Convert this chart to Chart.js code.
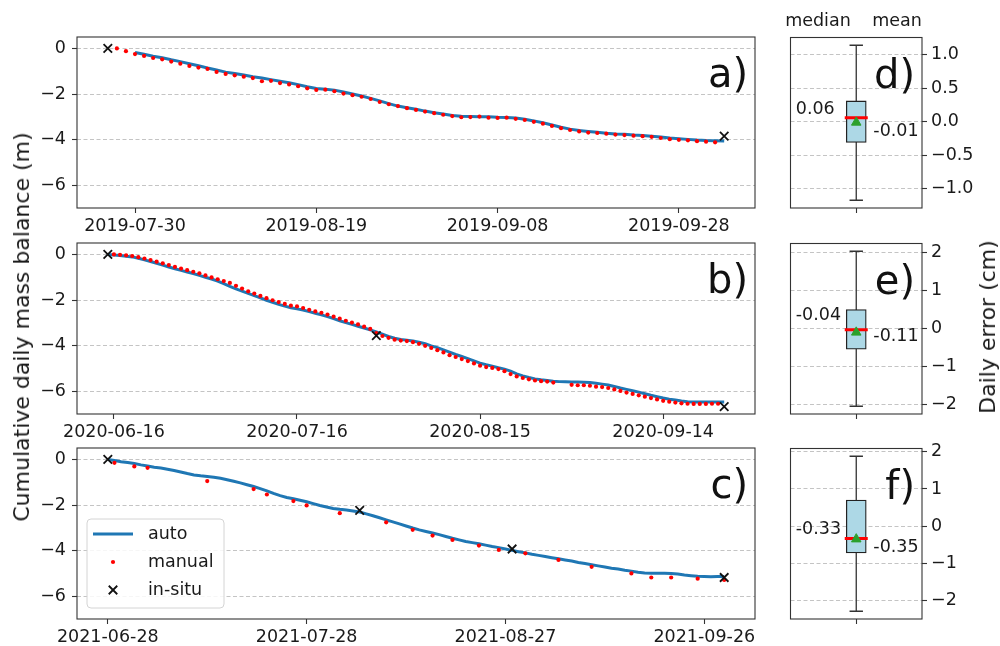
<!DOCTYPE html>
<html lang="en">
<head>
<meta charset="utf-8">
<title>Cumulative daily mass balance</title>
<script src="https://cdn.jsdelivr.net/npm/chart.js@4.4.1/dist/chart.umd.min.js"></script>
<style>
  html, body { margin: 0; padding: 0; background: #fff; overflow: hidden; }
  #fig { position: relative; width: 1000px; height: 646px; font-family: "DejaVu Sans", sans-serif; color: #1a1a1a; }
  #fig canvas { position: absolute; }
  .txt { position: absolute; white-space: nowrap; transform: translate(-50%, -50%); font-size: 17.5px; line-height: 1; }
  .vert { transform: translate(-50%, -50%) rotate(-90deg); font-size: 22px; }
</style>
</head>
<body>
<div id="fig">
  <canvas id="panelA" width="770" height="208" style="left:0;top:27px"></canvas>
  <canvas id="panelB" width="770" height="208" style="left:0;top:233px"></canvas>
  <canvas id="panelC" width="770" height="208" style="left:0;top:438px"></canvas>
  <canvas id="panelD" width="202" height="212" style="left:776px;top:23px"></canvas>
  <canvas id="panelE" width="202" height="212" style="left:776px;top:229px"></canvas>
  <canvas id="panelF" width="202" height="212" style="left:776px;top:434px"></canvas>
  <div class="txt vert" style="left:22px;top:327px">Cumulative daily mass balance (m)</div>
  <div class="txt" style="left:818px;top:21px">median</div>
  <div class="txt" style="left:897px;top:21px">mean</div>
  <div class="txt vert" style="left:988px;top:327px">Daily error (cm)</div>
</div>
<script>
// ---- 2019 season (panel a) ----
const ticksA = ['2019-07-30', '2019-08-19', '2019-09-08', '2019-09-28'];
const autoStartA = '2019-07-30';
const autoA = [
  -0.18, -0.26, -0.34, -0.41, -0.50, -0.58, -0.67, -0.76, -0.86, -0.95,
  -1.04, -1.10, -1.17, -1.24, -1.30, -1.37, -1.44, -1.51, -1.59, -1.68,
  -1.76, -1.79, -1.83, -1.91, -2.00, -2.09, -2.19, -2.30, -2.42, -2.53,
  -2.60, -2.67, -2.75, -2.82, -2.88, -2.94, -2.98, -2.99, -3.00, -3.00,
  -3.02, -3.03, -3.05, -3.11, -3.18, -3.26, -3.36, -3.46, -3.54, -3.60,
  -3.64, -3.68, -3.72, -3.75, -3.77, -3.80, -3.82, -3.85, -3.89, -3.93,
  -3.96, -3.99, -4.02, -4.04, -4.05, -4.06
];
const manualStartA = '2019-07-28';
const manualA = [
  0.00, -0.12, -0.25, -0.33, -0.42, -0.48, -0.58, -0.67, -0.77, -0.84,
  -0.90, -1.03, -1.12, -1.18, -1.24, -1.30, -1.44, -1.42, -1.52, -1.58,
  -1.66, -1.75, -1.82, -1.81, -1.88, -1.98, -2.05, -2.12, -2.22, -2.35,
  -2.45, -2.53, -2.62, -2.70, -2.77, -2.84, -2.91, -2.97, -3.02, -3.01,
  -2.99, -3.04, -3.05, -3.04, -3.09, -3.14, -3.22, -3.30, -3.40, -3.50,
  -3.58, -3.64, -3.69, -3.71, -3.74, -3.78, -3.80, -3.83, -3.85, -3.88,
  -3.93, -3.98, -4.01, -4.03, -4.07, -4.09, -4.12
];
const insituDatesA = ['2019-07-27', '2019-10-03'];
const insituA = [0, -3.85];

// ---- 2020 season (panel b) ----
const ticksB = ['2020-06-16', '2020-07-16', '2020-08-15', '2020-09-14'];
const autoStartB = '2020-06-15';
const autoB = [
  0.00, -0.03, -0.05, -0.08, -0.11, -0.17, -0.24, -0.31, -0.39, -0.47,
  -0.55, -0.63, -0.70, -0.77, -0.84, -0.92, -1.00, -1.08, -1.17, -1.28,
  -1.40, -1.51, -1.61, -1.71, -1.81, -1.91, -2.01, -2.10, -2.19, -2.27,
  -2.34, -2.39, -2.44, -2.51, -2.58, -2.65, -2.73, -2.82, -2.91, -2.99,
  -3.07, -3.15, -3.23, -3.31, -3.40, -3.50, -3.60, -3.68, -3.73, -3.76,
  -3.80, -3.85, -3.92, -4.01, -4.09, -4.19, -4.29, -4.39, -4.48, -4.57,
  -4.67, -4.77, -4.84, -4.90, -4.97, -5.03, -5.12, -5.24, -5.33, -5.40,
  -5.46, -5.50, -5.53, -5.56, -5.58, -5.59, -5.60, -5.60, -5.61, -5.62,
  -5.65, -5.69, -5.73, -5.79, -5.86, -5.92, -5.98, -6.04, -6.11, -6.18,
  -6.24, -6.30, -6.35, -6.39, -6.43, -6.46, -6.47, -6.47, -6.47, -6.47,
  -6.47, -6.47
];
const manualStartB = '2020-06-16';
const manualB = [
  0.00, -0.02, -0.04, -0.07, -0.12, -0.18, -0.25, -0.32, -0.39, -0.47,
  -0.55, -0.62, -0.69, -0.76, -0.83, -0.92, -1.01, -1.09, -1.17, -1.25,
  -1.38, -1.50, -1.62, -1.72, -1.82, -1.92, -2.01, -2.09, -2.17, -2.25,
  -2.28, -2.35, -2.43, -2.50, -2.56, -2.64, -2.73, -2.82, -2.91, -2.99,
  -3.07, -3.17, -3.27, -3.45, -3.58, -3.66, -3.74, -3.78, -3.80, -3.85,
  -3.92, -4.01, -4.10, -4.20, -4.30, -4.42, -4.50, -4.59, -4.68, -4.78,
  -4.88, -4.94, -4.98, -5.03, -5.12, -5.25, -5.35, -5.42, -5.48, -5.53,
  -5.56, -5.58, -5.62, null, null, -5.72, -5.74, -5.74, -5.76, -5.80,
  -5.82, -5.86, -5.92, -5.99, -6.06, -6.12, -6.18, -6.24, -6.30, -6.36,
  -6.42, -6.46, -6.50, -6.53, -6.55, -6.56, -6.56, -6.56, -6.55, -6.55
];
const insituDatesB = ['2020-06-15', '2020-07-29', '2020-09-24'];
const insituB = [0, -3.56, -6.68];

// ---- 2021 season (panel c) ----
const ticksC = ['2021-06-28', '2021-07-28', '2021-08-27', '2021-09-26'];
const autoStartC = '2021-06-28';
const autoC = [
  0.00, -0.05, -0.10, -0.14, -0.18, -0.24, -0.29, -0.34, -0.38, -0.43,
  -0.49, -0.55, -0.62, -0.68, -0.72, -0.75, -0.78, -0.83, -0.89, -0.96,
  -1.03, -1.11, -1.19, -1.28, -1.38, -1.49, -1.59, -1.67, -1.73, -1.79,
  -1.86, -1.94, -2.02, -2.09, -2.15, -2.19, -2.22, -2.26, -2.31, -2.39,
  -2.47, -2.56, -2.65, -2.74, -2.83, -2.92, -3.01, -3.09, -3.16, -3.23,
  -3.30, -3.38, -3.46, -3.53, -3.60, -3.65, -3.70, -3.76, -3.82, -3.87,
  -3.93, -3.99, -4.05, -4.10, -4.16, -4.21, -4.26, -4.31, -4.36, -4.41,
  -4.46, -4.52, -4.57, -4.62, -4.67, -4.72, -4.77, -4.81, -4.86, -4.90,
  -4.95, -4.98, -4.99, -4.99, -4.99, -5.00, -5.03, -5.07, -5.10, -5.13,
  -5.14, -5.15, -5.14, -5.14
];
// manual readings in 2021 were not daily: day offsets from autoStartC
const manualDaysC = [1, 4, 6, 15, 22, 24, 28, 30, 35, 42, 46, 49, 52, 56, 59, 63, 68, 73, 79, 82, 85, 89, 93];
const manualC = [-0.15, -0.31, -0.37, -0.95, -1.30, -1.54, -1.83, -2.02, -2.36, -2.76, -3.09, -3.34,
                 -3.53, -3.78, -3.97, -4.12, -4.41, -4.71, -5.00, -5.18, -5.18, -5.23, -5.29];
const insituDatesC = ['2021-06-28', '2021-08-05', '2021-08-28', '2021-09-29'];
const insituC = [0, -2.24, -3.93, -5.18];

const massTicks = [-6, -4, -2, 0];

// ---- daily error boxplots: whisker low, q1, median, q3, whisker high, mean (cm) ----
const statsD = [-1.17, -0.31, 0.06, 0.31, 1.14, -0.01];
const statsE = [-2.05, -0.55, -0.04, 0.49, 2.02, -0.11];
const statsF = [-2.29, -0.72, -0.33, 0.70, 1.88, -0.35];
const errTicksD = [-1, -0.5, 0, 0.5, 1];
const errTicksEF = [-2, -1, 0, 1, 2];

Chart.defaults.font.family = '"DejaVu Sans", sans-serif';
Chart.defaults.font.size = 17.5;
Chart.defaults.color = '#1a1a1a';

const DAY = 86400000;
function dayNum(s) {
  const [y, m, d] = s.split('-').map(Number);
  return Date.UTC(y, m - 1, d) / DAY;
}
function isoDate(n) {
  return new Date(Math.round(n) * DAY).toISOString().slice(0, 10);
}
function daily(start, values) {
  const d0 = dayNum(start);
  const pts = [];
  values.forEach((v, i) => { if (v !== null) pts.push({ x: d0 + i, y: v }); });
  return pts;
}
function dated(dates, values) {
  return dates.map((s, i) => ({ x: dayNum(s), y: values[i] }));
}
function offsets(start, days, values) {
  const d0 = dayNum(start);
  return days.map((d, i) => ({ x: d0 + d, y: values[i] }));
}
function fmt(v, dec) {
  return (v < 0 ? '\u2212' : '') + Math.abs(v).toFixed(dec);
}
// keep the plot area where the layout padding puts it
function fixY(width) {
  return s => { s.width = width; s.paddingTop = 0; s.paddingBottom = 0; };
}

const FRAME = '#333';
const GRID = '#c4c4c4';

function drawLegend(chart) {
  const { ctx, chartArea: a } = chart;
  const byLabel = {};
  chart.data.datasets.forEach(d => { byLabel[d.label] = d; });
  const bx = a.left + 10, by = a.bottom - 100, bw = 137, bh = 89;
  ctx.fillStyle = 'rgba(255,255,255,0.85)';
  ctx.strokeStyle = '#d4d4d4';
  ctx.lineWidth = 1;
  ctx.beginPath();
  if (ctx.roundRect) ctx.roundRect(bx, by, bw, bh, 4); else ctx.rect(bx, by, bw, bh);
  ctx.fill();
  ctx.stroke();

  const cx = bx + 26;
  const rows = ['auto', 'manual', 'in-situ'];
  const rowY = [by + 15, by + 43, by + 71];
  rows.forEach((name, i) => {
    const d = byLabel[name];
    const y = rowY[i];
    if (name === 'auto') {
      ctx.strokeStyle = d.borderColor;
      ctx.lineWidth = d.borderWidth;
      ctx.beginPath(); ctx.moveTo(bx + 6, y); ctx.lineTo(bx + 46, y); ctx.stroke();
    } else if (name === 'manual') {
      ctx.fillStyle = d.pointBackgroundColor;
      ctx.beginPath(); ctx.arc(cx, y, d.pointRadius, 0, Math.PI * 2); ctx.fill();
    } else {
      const r = d.pointRadius * Math.SQRT1_2;
      ctx.strokeStyle = d.pointBorderColor;
      ctx.lineWidth = d.pointBorderWidth;
      ctx.beginPath();
      ctx.moveTo(cx - r, y - r); ctx.lineTo(cx + r, y + r);
      ctx.moveTo(cx - r, y + r); ctx.lineTo(cx + r, y - r);
      ctx.stroke();
    }
    ctx.fillStyle = '#1a1a1a';
    ctx.font = '17.5px "DejaVu Sans"';
    ctx.textAlign = 'left';
    ctx.textBaseline = 'middle';
    ctx.fillText(name, bx + 61, y);
  });
}

function drawBoxLabels(chart, o) {
  const { ctx } = chart;
  const xs = chart.scales.x, ys = chart.scales.y;
  const med = o.stats[2], mean = o.stats[5];
  ctx.fillStyle = '#1a1a1a';
  ctx.font = '17.5px "DejaVu Sans"';
  ctx.textAlign = 'left';
  ctx.textBaseline = 'bottom';
  ctx.fillText(med.toFixed(2), xs.getPixelForValue(0.54), ys.getPixelForValue(med) - o.lift);
  ctx.textBaseline = 'top';
  ctx.fillText(mean.toFixed(2), xs.getPixelForValue(1.13), ys.getPixelForValue(mean) - o.lift);
}

// frame on all four sides, panel letter, legend and box annotations
const decor = {
  id: 'decor',
  afterDraw(chart, args, o) {
    const { ctx, chartArea: a } = chart;
    ctx.save();
    ctx.strokeStyle = FRAME;
    ctx.lineWidth = 1.1;
    ctx.strokeRect(a.left, a.top, a.right - a.left, a.bottom - a.top);
    if (o.stats) drawBoxLabels(chart, o);
    if (o.legend) drawLegend(chart);
    ctx.fillStyle = '#111';
    ctx.font = '40px "DejaVu Sans"';
    ctx.textAlign = 'right';
    ctx.textBaseline = 'alphabetic';
    ctx.fillText(o.letter, a.right - 7, a.top + 50);
    ctx.restore();
  }
};

function timeChart(id, letter, auto, manual, insitu, ticks, legend) {
  const xs = insitu.map(p => p.x);
  const first = Math.min(...xs), last = Math.max(...xs);
  const pad = 0.05 * (last - first);
  const tickDays = ticks.map(dayNum);
  return new Chart(document.getElementById(id), {
    type: 'scatter',
    data: {
      datasets: [
        { label: 'in-situ', data: insitu, pointStyle: 'crossRot', pointRadius: 6,
          pointBorderColor: '#111', pointBorderWidth: 1.8, order: 0 },
        { label: 'manual', data: manual, pointStyle: 'circle', pointRadius: 2.1,
          pointBackgroundColor: '#ff0000', pointBorderWidth: 0, order: 1 },
        { label: 'auto', data: auto, showLine: true, borderColor: '#1f77b4', borderWidth: 3,
          pointRadius: 0, tension: 0, order: 2 }
      ]
    },
    options: {
      responsive: false,
      animation: false,
      events: [],
      layout: { padding: { top: 10, right: 15, left: 0, bottom: 0 } },
      plugins: {
        legend: { display: false },
        tooltip: { enabled: false },
        decor: { letter, legend }
      },
      scales: {
        x: {
          type: 'linear',
          min: first - pad,
          max: last + pad,
          afterBuildTicks: s => { s.ticks = tickDays.map(v => ({ value: v })); },
          afterFit: s => { s.height = 27; },
          ticks: { callback: v => isoDate(v), maxRotation: 0, autoSkip: false, padding: 3 },
          grid: { drawOnChartArea: false, tickLength: 5, tickColor: FRAME, tickWidth: 1.1 },
          border: { display: false }
        },
        y: {
          min: -7,
          max: 0.5,
          afterBuildTicks: s => { s.ticks = massTicks.map(v => ({ value: v })); },
          afterFit: fixY(77),
          ticks: { callback: v => fmt(v, 0), padding: 6 },
          grid: { color: GRID, lineWidth: 1, tickLength: 5, tickColor: FRAME, tickWidth: 1.1 },
          border: { display: false, dash: [4, 2.5] }
        }
      }
    },
    plugins: [decor]
  });
}

function boxChart(id, letter, stats, ticks, dec, lift) {
  const [lo, q1, med, q3, hi, mean] = stats;
  const pad = 0.05 * (hi - lo);
  return new Chart(document.getElementById(id), {
    type: 'scatter',
    data: {
      datasets: [
        { type: 'scatter', label: 'mean', data: [{ x: 1, y: mean }], pointStyle: 'triangle', pointRadius: 5.5,
          pointBackgroundColor: '#2ca02c', pointBorderColor: '#2ca02c', pointBorderWidth: 1, order: 0 },
        { type: 'scatter', label: 'median', data: [{ x: 1, y: med }], pointStyle: 'line', pointRadius: 11.5,
          pointBorderColor: '#ff0000', pointBorderWidth: 3, order: 1 },
        { type: 'bar', label: 'iqr', data: [{ x: 1, y: [q1, q3] }], backgroundColor: '#add8e6',
          borderColor: '#222', borderWidth: 1.3, borderSkipped: false, barThickness: 20, order: 2 },
        { type: 'scatter', label: 'whiskers', data: [{ x: 1, y: lo }, { x: 1, y: hi }], showLine: true,
          borderColor: '#333', borderWidth: 1.3, pointStyle: 'line', pointRadius: 6.7,
          pointBorderColor: '#333', pointBorderWidth: 1.3, order: 3 }
      ]
    },
    options: {
      responsive: false,
      animation: false,
      events: [],
      layout: { padding: { top: 14, right: 0, left: 10, bottom: 0 } },
      plugins: {
        legend: { display: false },
        tooltip: { enabled: false },
        decor: { letter, stats, lift }
      },
      scales: {
        x: {
          type: 'linear',
          min: 0.5,
          max: 1.5,
          offset: false,
          afterBuildTicks: s => { s.ticks = [{ value: 1 }]; },
          afterFit: s => { s.height = 27; },
          ticks: { callback: () => '', maxRotation: 0 },
          grid: { drawOnChartArea: false, offset: false, tickLength: 5, tickColor: FRAME, tickWidth: 1.1 },
          border: { display: false }
        },
        y: {
          position: 'right',
          min: lo - pad,
          max: hi + pad,
          afterBuildTicks: s => { s.ticks = ticks.map(v => ({ value: v })); },
          afterFit: fixY(56),
          ticks: { callback: v => fmt(v, dec), padding: 4 },
          grid: { color: GRID, lineWidth: 1, tickLength: 5, tickColor: FRAME, tickWidth: 1.1 },
          border: { display: false, dash: [4, 2.5] }
        }
      }
    },
    plugins: [decor]
  });
}

timeChart('panelA', 'a)', daily(autoStartA, autoA), daily(manualStartA, manualA),
          dated(insituDatesA, insituA), ticksA, false);
timeChart('panelB', 'b)', daily(autoStartB, autoB), daily(manualStartB, manualB),
          dated(insituDatesB, insituB), ticksB, false);
timeChart('panelC', 'c)', daily(autoStartC, autoC), offsets(autoStartC, manualDaysC, manualC),
          dated(insituDatesC, insituC), ticksC, true);

boxChart('panelD', 'd)', statsD, errTicksD, 1, 0);
boxChart('panelE', 'e)', statsE, errTicksEF, 0, 5);
boxChart('panelF', 'f)', statsF, errTicksEF, 0, 0);
</script>
</body>
</html>
